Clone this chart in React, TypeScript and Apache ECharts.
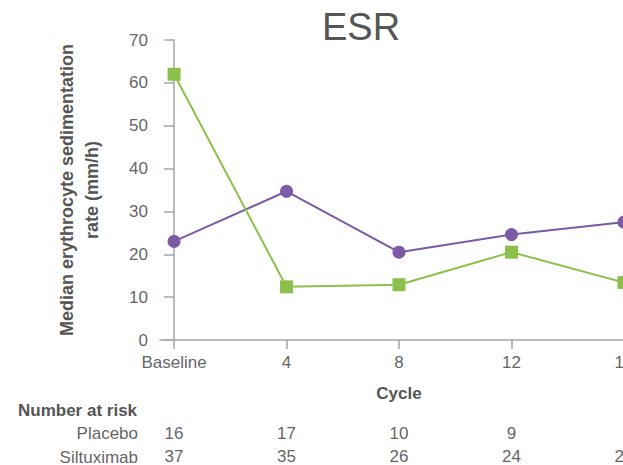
import React, { useEffect, useRef } from 'react';
import * as echarts from 'echarts';

const cycles = [0, 4, 8, 12, 16];
const tickLabels = ['Baseline', '4', '8', '12', '16'];
const purpleValues = [23, 34.7, 20.5, 24.6, 27.5];
const greenValues = [62, 12.4, 12.9, 20.5, 13.4];
const placeboAtRisk = ['16', '17', '10', '9', ''];
const siltuximabAtRisk = ['37', '35', '26', '24', '22'];
const rowLabels = ['Placebo', 'Siltuximab'];

const FONT = '"Liberation Sans", Arial, Helvetica, sans-serif';
const AXIS_GRAY = '#a6a6a6';
const LABEL_GRAY = '#666666';
const DARK = '#555555';

function labelFor(arr: string[]) {
  return (v: number) => {
    const i = cycles.indexOf(v);
    return i >= 0 ? arr[i] : '';
  };
}

function riskAxis(values: string[], offset: number) {
  return {
    type: 'value',
    gridIndex: 0,
    position: 'bottom',
    offset,
    min: -0.5,
    max: 16.5,
    axisLine: { show: false },
    axisTick: { show: false },
    splitLine: { show: false },
    axisLabel: {
      customValues: cycles,
      formatter: labelFor(values),
      margin: 0,
      color: LABEL_GRAY,
      fontSize: 17,
      fontFamily: FONT,
      showMinLabel: true,
      showMaxLabel: true,
    },
  };
}

export default function App() {
  const ref = useRef<HTMLDivElement>(null);
  useEffect(() => {
    if (!ref.current) return;
    const chart = echarts.init(ref.current, undefined, { renderer: 'svg' });
    const option: any = {
      animation: false,
      backgroundColor: '#ffffff',
      grid: { left: 160, top: 40, width: 478, height: 300, outerBoundsMode: 'none', containLabel: false },
      xAxis: [
        {
          type: 'value',
          min: -0.5,
          max: 16.5,
          name: 'Cycle',
          nameLocation: 'middle',
          nameGap: 45,
          nameTextStyle: { color: DARK, fontSize: 17, fontWeight: 'bold', fontFamily: FONT },
          axisLine: { show: true, lineStyle: { color: AXIS_GRAY, width: 1.5 } },
          axisTick: { show: true, customValues: cycles, length: 9, lineStyle: { color: AXIS_GRAY, width: 1.5 } },
          splitLine: { show: false },
          axisLabel: {
            customValues: cycles,
            formatter: labelFor(tickLabels),
            margin: 14,
            color: LABEL_GRAY,
            fontSize: 17,
            fontFamily: FONT,
            showMinLabel: true,
            showMaxLabel: true,
          },
        },
        riskAxis(placeboAtRisk, 85),
        riskAxis(siltuximabAtRisk, 108),
      ],
      yAxis: {
        type: 'value',
        min: 0,
        max: 70,
        interval: 10,
        axisLine: { show: true, lineStyle: { color: AXIS_GRAY, width: 1.5 } },
        axisTick: { show: true, length: 10, lineStyle: { color: AXIS_GRAY, width: 1.5 } },
        splitLine: { show: false },
        axisLabel: { margin: 12, color: LABEL_GRAY, fontSize: 17, fontFamily: FONT },
      },
      series: [
        {
          type: 'line',
          name: 'Purple',
          xAxisIndex: 0,
          data: cycles.map((c, i) => [c, purpleValues[i]]),
          symbol: 'circle',
          symbolSize: 13,
          lineStyle: { color: '#7b5aa6', width: 2 },
          itemStyle: { color: '#7b5aa6' },
        },
        {
          type: 'line',
          name: 'Green',
          xAxisIndex: 0,
          data: cycles.map((c, i) => [c, greenValues[i]]),
          symbol: 'rect',
          symbolSize: 13,
          lineStyle: { color: '#8dc04a', width: 2 },
          itemStyle: { color: '#8dc04a' },
        },
      ],
      graphic: [
        {
          type: 'text',
          x: 361,
          y: 27,
          style: {
            text: 'ESR',
            fill: DARK,
            font: `38px ${FONT}`,
            textAlign: 'center',
            textVerticalAlign: 'middle',
          },
        },
        {
          type: 'text',
          x: 79,
          y: 190,
          rotation: Math.PI / 2,
          style: {
            text: 'Median erythrocyte sedimentation\nrate (mm/h)',
            fill: DARK,
            font: `bold 18px ${FONT}`,
            lineHeight: 25,
            textAlign: 'center',
            textVerticalAlign: 'middle',
          },
        },
        {
          type: 'text',
          x: 18,
          y: 410,
          style: {
            text: 'Number at risk',
            fill: DARK,
            font: `bold 17px ${FONT}`,
            textAlign: 'left',
            textVerticalAlign: 'middle',
          },
        },
        ...rowLabels.map((t, i) => ({
          type: 'text',
          x: 138,
          y: 433 + i * 24,
          style: {
            text: t,
            fill: LABEL_GRAY,
            font: `17px ${FONT}`,
            textAlign: 'right',
            textVerticalAlign: 'middle',
          },
        })),
      ],
    };
    chart.setOption(option);
    return () => chart.dispose();
  }, []);
  return (
    <div
      ref={ref}
      style={{ position: 'absolute', left: 0, top: 0, width: 623, height: 465, background: '#fff' }}
    />
  );
}
